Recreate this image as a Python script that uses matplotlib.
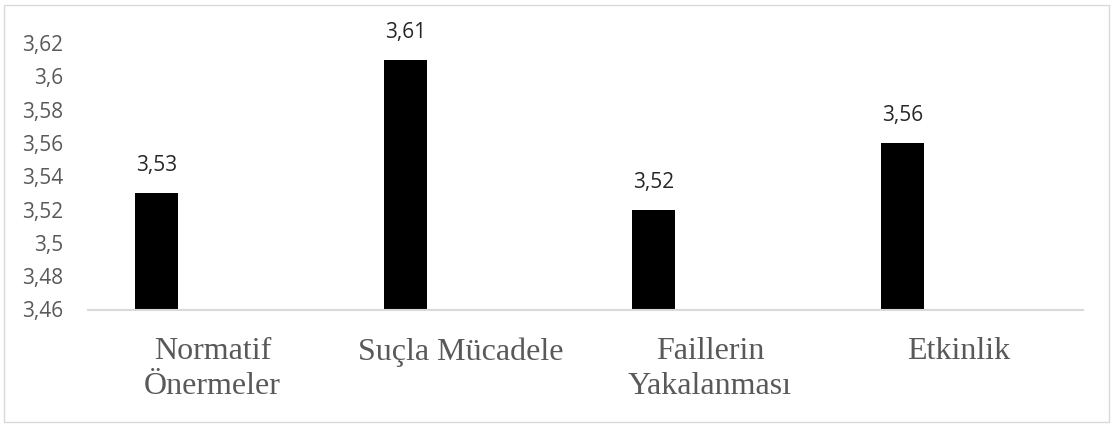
import matplotlib
matplotlib.use("Agg")
import matplotlib.pyplot as plt
from matplotlib.patches import Rectangle

categories = ["Normatif\nÖnermeler", "Suçla Mücadele", "Faillerin\nYakalanması", "Etkinlik"]
values = [3.53, 3.61, 3.52, 3.56]
yticks = [3.46, 3.48, 3.50, 3.52, 3.54, 3.56, 3.58, 3.60, 3.62]
ytick_labels = ["3,46", "3,48", "3,5", "3,52", "3,54", "3,56", "3,58", "3,6", "3,62"]
value_labels = ["3,53", "3,61", "3,52", "3,56"]

W, H = 1113, 426
fig = plt.figure(figsize=(W / 100, H / 100), dpi=100)
fig.patch.set_facecolor("white")
fig.patches.append(Rectangle((4 / W, 4 / H), 1105 / W, 417 / H, transform=fig.transFigure,
                             fill=False, edgecolor="#d9d9d9", linewidth=1.0))

ax = fig.add_axes([88 / W, 1 - 309.5 / H, (1083 - 88) / W, (309.5 - 43) / H])
x = list(range(len(categories)))
offset = -0.225
bw = 0.173
xs = [i + offset for i in x]
ax.bar(xs, [v - yticks[0] for v in values], bottom=yticks[0], width=bw, color="black")
for xi, v, lab in zip(xs, values, value_labels):
    ax.annotate(lab, (xi, v), xytext=(0, 27), textcoords="offset pixels",
                ha="center", va="center", fontsize=15, color="#262626", family="Open Sans")

ax.set_xlim(-0.5, len(categories) - 0.5)
ax.set_ylim(yticks[0], yticks[-1])
ax.set_yticks(yticks)
ax.set_yticklabels(ytick_labels, family="Open Sans", fontsize=15, color="#595959")
ax.set_xticks(x)
ax.set_xticklabels(categories, family="Liberation Serif", fontsize=23, color="#595959",
                   linespacing=1.25)
ax.tick_params(axis="both", length=0)
ax.tick_params(axis="y", pad=18)
ax.tick_params(axis="x", pad=20)
for s in ["top", "right", "left"]:
    ax.spines[s].set_visible(False)
ax.spines["bottom"].set_color("#d9d9d9")
ax.spines["bottom"].set_linewidth(1.5)

fig.savefig("out.png", dpi=100)
